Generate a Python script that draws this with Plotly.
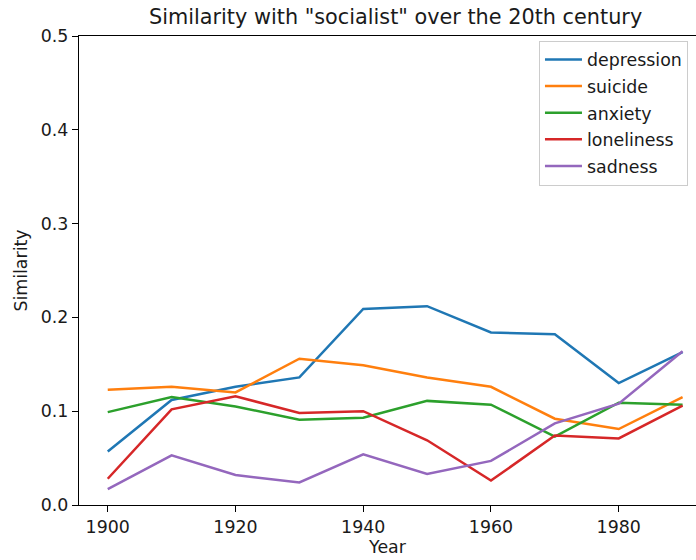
import plotly.graph_objects as go

years = [1900, 1910, 1920, 1930, 1940, 1950, 1960, 1970, 1980, 1990]

depression = [0.057, 0.112, 0.126, 0.136, 0.209, 0.212, 0.184, 0.182, 0.130, 0.163]
suicide = [0.123, 0.126, 0.120, 0.156, 0.149, 0.136, 0.126, 0.092, 0.081, 0.115]
anxiety = [0.099, 0.115, 0.105, 0.091, 0.093, 0.111, 0.107, 0.073, 0.109, 0.107]
loneliness = [0.028, 0.102, 0.116, 0.098, 0.100, 0.069, 0.026, 0.074, 0.071, 0.106]
sadness = [0.017, 0.053, 0.032, 0.024, 0.054, 0.033, 0.047, 0.087, 0.108, 0.164]

series = [
    ("depression", depression, "#1f77b4"),
    ("suicide", suicide, "#ff7f0e"),
    ("anxiety", anxiety, "#2ca02c"),
    ("loneliness", loneliness, "#d62728"),
    ("sadness", sadness, "#9467bd"),
]

font = "DejaVu Sans"
txt = "#1a1a1a"
fs = 17.4

fig = go.Figure()
for name, vals, color in series:
    fig.add_trace(go.Scatter(
        x=years, y=vals, mode="lines", name=name, legendgroup=name,
        line=dict(color=color, width=2.5),
    ))

fig.update_layout(
    width=696, height=560,
    margin=dict(l=79, r=0, t=36, b=55),
    paper_bgcolor="white", plot_bgcolor="white",
    font=dict(family=font, size=fs, color=txt),
    showlegend=True,
    legend=dict(
        x=0.7455, y=0.99, xanchor="left", yanchor="top",
        bgcolor="rgba(255,255,255,0.8)", bordercolor="#cccccc", borderwidth=1,
        font=dict(family=font, size=fs, color=txt),
        itemwidth=37, tracegroupgap=1,
    ),
    annotations=[dict(
        text='Similarity with "socialist" over the 20th century',
        xref="paper", yref="paper", x=0.513, y=1.0, yshift=5,
        xanchor="center", yanchor="bottom", showarrow=False,
        font=dict(family=font, size=20.8, color=txt),
    )],
)

fig.update_xaxes(
    range=[1895.5, 1992.1],
    tickmode="array", tickvals=[1900, 1920, 1940, 1960, 1980],
    ticks="outside", ticklen=6, tickcolor="black", tickwidth=1.3,
    showline=True, linecolor="black", linewidth=1.3, mirror=True,
    showgrid=False, zeroline=False,
    title=dict(text="Year", standoff=4, font=dict(family=font, size=fs)),
)
fig.update_yaxes(
    range=[0, 0.5],
    tickmode="array", tickvals=[0, 0.1, 0.2, 0.3, 0.4, 0.5],
    ticktext=["0.0", "0.1", "0.2", "0.3", "0.4", "0.5"],
    ticks="outside", ticklen=6, tickcolor="black", tickwidth=1.3,
    showline=True, linecolor="black", linewidth=1.3, mirror=False,
    showgrid=False, zeroline=False,
    title=dict(text="Similarity", standoff=8, font=dict(family=font, size=fs)),
)

fig.write_html("out.html")
